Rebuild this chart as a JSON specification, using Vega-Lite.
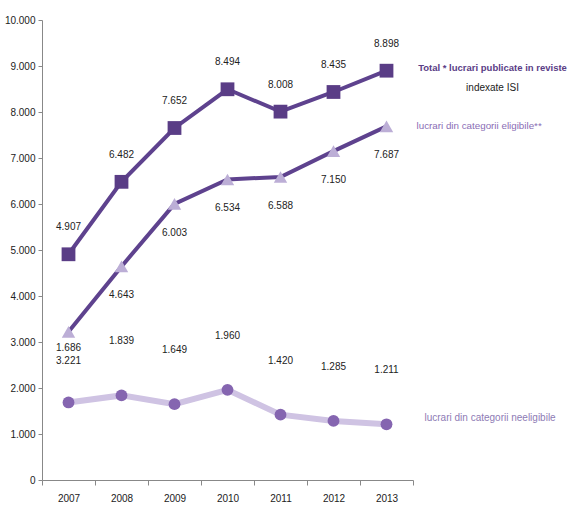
{
  "$schema": "https://vega.github.io/schema/vega-lite/v6.json",
  "width": 371,
  "height": 460,
  "autosize": {"type": "none"},
  "padding": {"left": 42, "top": 20, "right": 158, "bottom": 26},
  "background": "white",
  "config": {
    "locale": {"number": {"decimal": ",", "thousands": ".", "grouping": [3], "currency": ["", ""]}},
    "view": {"stroke": null},
    "font": "Liberation Sans, sans-serif",
    "text": {"font": "Liberation Sans, sans-serif", "fontSize": 10, "color": "#222"}
  },
  "data": {
    "values": [
      {"year": "2007", "series": "total", "value": 4907},
      {"year": "2008", "series": "total", "value": 6482},
      {"year": "2009", "series": "total", "value": 7652},
      {"year": "2010", "series": "total", "value": 8494},
      {"year": "2011", "series": "total", "value": 8008},
      {"year": "2012", "series": "total", "value": 8435},
      {"year": "2013", "series": "total", "value": 8898},
      {"year": "2007", "series": "eligibile", "value": 3221},
      {"year": "2008", "series": "eligibile", "value": 4643},
      {"year": "2009", "series": "eligibile", "value": 6003},
      {"year": "2010", "series": "eligibile", "value": 6534},
      {"year": "2011", "series": "eligibile", "value": 6588},
      {"year": "2012", "series": "eligibile", "value": 7150},
      {"year": "2013", "series": "eligibile", "value": 7687},
      {"year": "2007", "series": "neeligibile", "value": 1686},
      {"year": "2008", "series": "neeligibile", "value": 1839},
      {"year": "2009", "series": "neeligibile", "value": 1649},
      {"year": "2010", "series": "neeligibile", "value": 1960},
      {"year": "2011", "series": "neeligibile", "value": 1420},
      {"year": "2012", "series": "neeligibile", "value": 1285},
      {"year": "2013", "series": "neeligibile", "value": 1211}
    ]
  },
  "encoding": {
    "x": {
      "field": "year", "type": "ordinal",
      "scale": {"type": "band", "paddingInner": 0, "paddingOuter": 0},
      "axis": {"title": null, "labelAngle": 0, "tickBand": "extent", "domainColor": "#888", "tickColor": "#888", "tickSize": 5, "labelPadding": 8, "labelFontSize": 10, "labelColor": "#222", "labelFont": "Liberation Sans, sans-serif"}
    },
    "y": {
      "field": "value", "type": "quantitative",
      "scale": {"domain": [0, 10000], "nice": false},
      "axis": {"title": null, "values": [0,1000,2000,3000,4000,5000,6000,7000,8000,9000,10000], "format": ",.0f", "grid": false, "domainColor": "#888", "tickColor": "#888", "tickSize": 4, "labelPadding": 3, "labelFontSize": 10, "labelColor": "#222", "labelFont": "Liberation Sans, sans-serif"}
    }
  },
  "layer": [
    {
      "transform": [{"filter": "datum.series === 'neeligibile'"}],
      "layer": [
        {"mark": {"type": "line", "color": "#cfc3e3", "strokeWidth": 6}},
        {"mark": {"type": "point", "shape": "circle", "filled": true, "opacity": 1, "size": 140, "color": "#8565b0"}},
        {"mark": {"type": "text", "dy": -54}, "encoding": {"text": {"field": "value", "format": ",.0f"}}}
      ]
    },
    {
      "transform": [{"filter": "datum.series === 'eligibile'"}],
      "layer": [
        {"mark": {"type": "line", "color": "#5e428e", "strokeWidth": 4}},
        {"mark": {"type": "point", "shape": "triangle-up", "filled": true, "opacity": 1, "size": 180, "color": "#bcaed6"}},
        {"mark": {"type": "text", "dy": 29}, "encoding": {"text": {"field": "value", "format": ",.0f"}}}
      ]
    },
    {
      "transform": [{"filter": "datum.series === 'total'"}],
      "layer": [
        {"mark": {"type": "line", "color": "#5e428e", "strokeWidth": 4}},
        {"mark": {"type": "point", "shape": "square", "filled": true, "opacity": 1, "size": 190, "color": "#5a3d86"}},
        {"mark": {"type": "text", "dy": -27}, "encoding": {"text": {"field": "value", "format": ",.0f"}}}
      ]
    },
    {
      "transform": [{"filter": "datum.series === 'total' && datum.year === '2013'"}],
      "layer": [
        {
          "mark": {"type": "text", "align": "center", "dx": 106, "dy": -3, "fontWeight": "bold", "fontSize": 9.5, "color": "#5a3d86"},
          "encoding": {"text": {"value": "Total * lucrari publicate in reviste"}}
        },
        {
          "mark": {"type": "text", "align": "center", "dx": 106, "dy": 17, "fontSize": 10, "color": "#222"},
          "encoding": {"text": {"value": "indexate ISI"}}
        }
      ]
    },
    {
      "transform": [{"filter": "datum.series === 'eligibile' && datum.year === '2013'"}],
      "mark": {"type": "text", "align": "left", "dx": 30, "dy": 0, "fontSize": 9.8, "color": "#8a6db5"},
      "encoding": {"text": {"value": "lucrari din categorii eligibile**"}}
    },
    {
      "transform": [{"filter": "datum.series === 'neeligibile' && datum.year === '2013'"}],
      "mark": {"type": "text", "align": "left", "dx": 38, "dy": -6, "fontSize": 10, "color": "#8e7bb5"},
      "encoding": {"text": {"value": "lucrari din categorii neeligibile"}}
    }
  ]
}
